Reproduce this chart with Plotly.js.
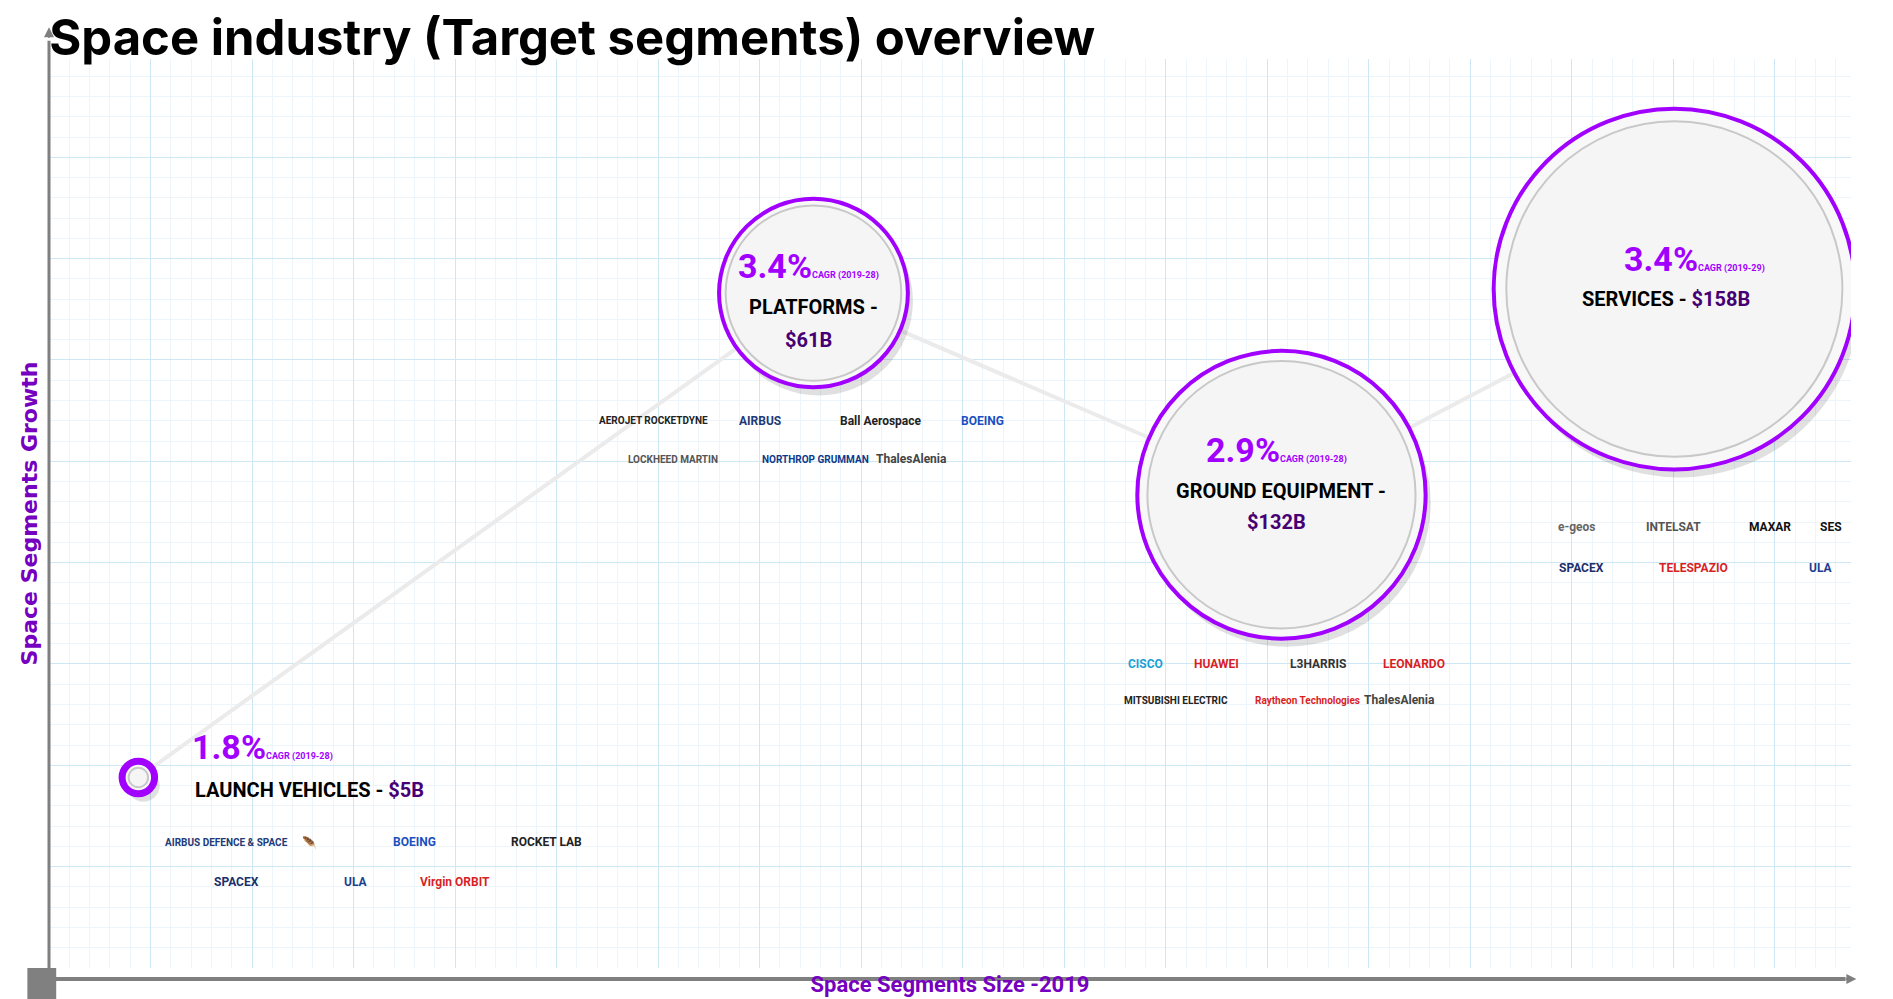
<!DOCTYPE html>
<html><head><meta charset="utf-8">
<script src="https://cdn.plot.ly/plotly-3.0.1.min.js"></script>
<style>body{margin:0;background:#fff}#c{width:1893px;height:999px}</style>
</head><body><div id="c"></div>
<script>
// ---- data ----
const segments = ["LAUNCH VEHICLES", "PLATFORMS", "GROUND EQUIPMENT", "SERVICES"];
const sizeLabels = ["$5B", "$61B", "$132B", "$158B"];
const cagr = ["1.8%", "3.4%", "2.9%", "3.4%"];
const cagrPeriod = ["CAGR (2019-28)", "CAGR (2019-28)", "CAGR (2019-28)", "CAGR (2019-29)"];
const sizeX = [0.88, 7.53, 12.14, 16.01];
const growthY = [1.88, 6.66, 4.67, 6.70];
const radius = [0.16, 0.93, 1.42, 1.78];
const logos = [
  [["AIRBUS DEFENCE & SPACE","#1e3a78"],["🪶","#1535d8"],["BOEING","#1a4fc0"],["ROCKET LAB","#222"],["SPACEX","#1c2f6b"],["ULA","#1c3f8f"],["Virgin ORBIT","#d81f26"]],
  [["AEROJET ROCKETDYNE","#222"],["AIRBUS","#1e3a78"],["Ball Aerospace","#222"],["BOEING","#1a4fc0"],["LOCKHEED MARTIN","#555"],["NORTHROP GRUMMAN","#0b3a8c"],["ThalesAlenia","#444"]],
  [["CISCO","#1ba0d7"],["HUAWEI","#d81f26"],["L3HARRIS","#333"],["LEONARDO","#d81f26"],["MITSUBISHI ELECTRIC","#222"],["Raytheon Technologies","#d81f26"],["ThalesAlenia","#444"]],
  [["e-geos","#666"],["INTELSAT","#555"],["MAXAR","#111"],["SES","#111"],["SPACEX","#1c2f6b"],["TELESPAZIO","#d81f26"],["ULA","#1c3f8f"]]
];

// ---- layout helpers (positions, styles) ----
const logoRows = [
  {x:[1.75,2.57,3.6,4.9,1.85,3.02,4.0], y:[1.24,1.24,1.24,1.24,0.85,0.85,0.85]},
  {x:[5.95,7.0,8.2,9.2,6.15,7.55,8.5], y:[5.4,5.4,5.4,5.4,5.02,5.02,5.02]},
  {x:[10.8,11.5,12.5,13.45,11.1,12.4,13.3], y:[3.0,3.0,3.0,3.0,2.64,2.64,2.64]},
  {x:[15.05,16.0,16.95,17.55,15.1,16.2,17.45], y:[4.35,4.35,4.35,4.35,3.95,3.95,3.95]}
];
const PURPLE="#a100ff", DARK="#460073";
const shapes=[], ann=[];
for(let i=0;i<segments.length;i++){
  const r=radius[i], cx=sizeX[i], cy=growthY[i];
  shapes.push({type:"circle",xref:"x",yref:"y",x0:cx-r+0.05,x1:cx+r+0.05,y0:cy-r-0.08,y1:cy+r-0.08,fillcolor:"rgba(0,0,0,0.12)",line:{width:0}});
  shapes.push({type:"circle",xref:"x",yref:"y",x0:cx-r,x1:cx+r,y0:cy-r,y1:cy+r,fillcolor:"#f8f8f8",line:{color:PURPLE,width:i===0?7:4}});
  const ri=r*(i===0?0.6:0.93);
  shapes.push({type:"circle",xref:"x",yref:"y",x0:cx-ri,x1:cx+ri,y0:cy-ri,y1:cy+ri,fillcolor:"#f5f5f5",line:{color:"#c8c8c8",width:2}});
  logos[i].forEach((l,j)=>{
    ann.push({x:logoRows[i].x[j],y:logoRows[i].y[j],xref:"x",yref:"y",showarrow:false,
      text:"<b>"+l[0]+"</b>",font:{family:"Roboto",size:l[0].length>14?10:12,color:l[1]}});
  });
}
const pct=(i)=>"<b>"+cagr[i]+"</b><span style='font-size:9px'><b>"+cagrPeriod[i]+"</b></span>";
ann.push({x:1.39,y:2.18,xanchor:"left",text:pct(0)});
ann.push({x:1.42,y:1.76,xanchor:"left",text:"<b>"+segments[0]+" - <span style='color:"+DARK+"'>"+sizeLabels[0]+"</span></b>",font:{size:20,color:"#000",family:"Roboto"}});
ann.push({x:sizeX[1]-0.05,y:6.93,text:pct(1)});
ann.push({x:sizeX[1],y:6.52,text:"<b>"+segments[1]+" -</b>",font:{size:20,color:"#000",family:"Roboto"}});
ann.push({x:sizeX[1]-0.05,y:6.2,text:"<b>"+sizeLabels[1]+"</b>",font:{size:20,color:DARK,family:"Roboto"}});
ann.push({x:sizeX[2]-0.05,y:5.11,text:pct(2)});
ann.push({x:sizeX[2],y:4.71,text:"<b>"+segments[2]+" -</b>",font:{size:20,color:"#000",family:"Roboto"}});
ann.push({x:sizeX[2]-0.05,y:4.4,text:"<b>"+sizeLabels[2]+"</b>",font:{size:20,color:DARK,family:"Roboto"}});
ann.push({x:sizeX[3]+0.2,y:7.0,text:pct(3)});
ann.push({x:sizeX[3]-0.08,y:6.6,text:"<b>"+segments[3]+" - <span style='color:"+DARK+"'>"+sizeLabels[3]+"</span></b>",font:{size:20,color:"#000",family:"Roboto"}});
ann.forEach(a=>{a.xref=a.xref||"x";a.yref=a.yref||"y";a.showarrow=false;if(!a.font)a.font={size:34,color:PURPLE,family:"Roboto"};});

// axes arrows and origin square
shapes.push({type:"line",xref:"paper",yref:"paper",x0:0,x1:0,y0:0,y1:1.02,line:{color:"#7f7f7f",width:3},layer:"above"});
shapes.push({type:"line",xref:"paper",yref:"paper",x0:0,x1:0.997,y0:-0.012,y1:-0.012,line:{color:"#7f7f7f",width:4},layer:"above"});
shapes.push({type:"rect",xref:"paper",yref:"paper",x0:-0.012,x1:0.004,y0:-0.045,y1:-0.0,fillcolor:"#808080",line:{width:0},layer:"above"});
ann.push({xref:"paper",yref:"paper",x:0,y:1.035,ax:0,ay:12,showarrow:true,arrowhead:2,arrowsize:1,arrowwidth:2,arrowcolor:"#7f7f7f",text:""});
ann.push({xref:"paper",yref:"paper",x:1.003,y:-0.012,ax:-12,ay:0,showarrow:true,arrowhead:2,arrowsize:1,arrowwidth:2,arrowcolor:"#7f7f7f",text:""});

const grid={showgrid:true,gridcolor:"#cde7f4",gridwidth:1,zeroline:false,showticklabels:false,ticks:"",showline:false,dtick:1,
  minor:{dtick:0.2,showgrid:true,gridcolor:"#edf5fa",gridwidth:1}};

Plotly.newPlot("c",[{
  x:sizeX,y:growthY,mode:"lines",line:{color:"#ebebeb",width:4},hoverinfo:"skip",showlegend:false
}],{
  width:1893,height:999,margin:{l:49,r:42,t:59,b:31},paper_bgcolor:"#fff",plot_bgcolor:"#fff",
  title:{text:"<b>Space industry (Target segments) overview</b>",x:0.026,xanchor:"left",y:0.962,yanchor:"middle",font:{family:"Inter",size:49,color:"#000"}},
  xaxis:Object.assign({range:[0,17.75],title:{text:"<b>Space Segments Size -2019</b>",standoff:8,font:{family:"Roboto",size:22,color:"#7500c0"}}},grid),
  yaxis:Object.assign({range:[0,8.97],title:{text:"<b>Space Segments Growth</b>",standoff:4,font:{family:"DejaVu Sans",size:22,color:"#7500c0"}}},grid),
  shapes:shapes,annotations:ann
},{displayModeBar:false});
</script></body></html>
